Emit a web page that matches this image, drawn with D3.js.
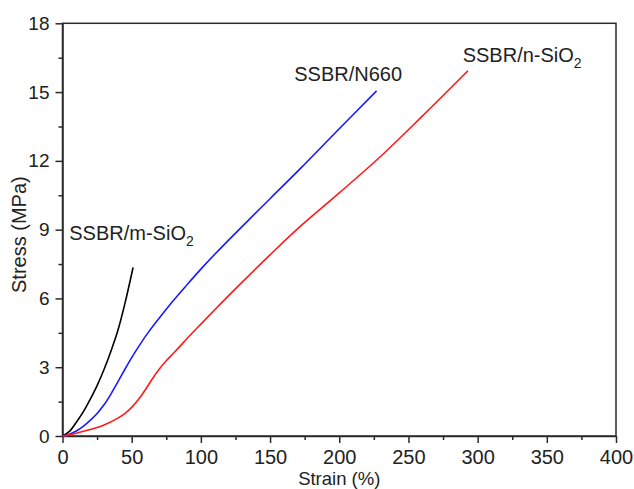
<!DOCTYPE html>
<html>
<head>
<meta charset="utf-8">
<script src="https://cdn.jsdelivr.net/npm/d3@7"></script>
<style>
  html, body { margin: 0; padding: 0; background: #fff; }
  svg { display: block; font-family: Arial, "Liberation Sans", sans-serif; }
</style>
</head>
<body>
<svg id="chart" width="634" height="489"></svg>
<script>
// Tensile stress–strain curves for the three SSBR compounds
const strainBlack = [0, 5, 10, 15, 20, 25, 30, 35, 40, 45, 51];
const stressBlack = [0, 0.2, 0.6, 1.05, 1.6, 2.2, 2.9, 3.7, 4.6, 5.75, 7.35];

const strainBlue = [0, 5, 10, 15, 20, 25, 30, 35, 40, 45, 50, 55, 62, 70, 80, 90, 100, 112, 135, 150, 172, 200, 227];
const stressBlue = [0, 0.08, 0.22, 0.42, 0.68, 0.98, 1.36, 1.83, 2.36, 2.9, 3.42, 3.9, 4.52, 5.15, 5.9, 6.6, 7.28, 8.05, 9.45, 10.35, 11.67, 13.4, 15.05];

const strainRed = [0, 5, 10, 20, 30, 40, 45, 50, 55, 60, 65, 70, 75, 80, 85, 90, 100, 114, 130, 150, 172, 200, 230, 260, 293];
const stressRed = [0, 0.05, 0.12, 0.28, 0.48, 0.78, 0.98, 1.25, 1.6, 2.03, 2.5, 2.92, 3.28, 3.6, 3.92, 4.25, 4.88, 5.75, 6.72, 7.9, 9.15, 10.6, 12.2, 13.95, 15.93];

const seriesNames = ["SSBR/m-SiO", "SSBR/N660", "SSBR/n-SiO"];
const seriesSubs = ["2", "", "2"];
const seriesColors = ["#000000", "#1a1aff", "#ff1a1a"];
const labelAt = [[4.9, 8.55], [167.5, 15.48], [289.2, 16.3]];

const xTicks = [0, 50, 100, 150, 200, 250, 300, 350, 400];
const yTicks = [0, 3, 6, 9, 12, 15, 18];
const xMinor = [25, 75, 125, 175, 225, 275, 325, 375];
const yMinor = [1.5, 4.5, 7.5, 10.5, 13.5, 16.5];

const W = 634, H = 489;
const margin = { left: 62.5, right: 18, top: 23.3, bottom: 53 };
const svg = d3.select("#chart");

const x = d3.scaleLinear().domain([0, 400]).range([margin.left, W - margin.right]);
const y = d3.scaleLinear().domain([0, 18]).range([H - margin.bottom, margin.top]);

const axisColor = "#2a2a2a";

// frame
svg.append("rect")
  .attr("x", x(0)).attr("y", y(18))
  .attr("width", x(400) - x(0)).attr("height", y(0) - y(18))
  .attr("fill", "none").attr("stroke", axisColor).attr("stroke-width", 1.5);

// x axis
const gx = svg.append("g").attr("transform", `translate(0,${y(0)})`)
  .call(d3.axisBottom(x).tickValues(xTicks).tickSize(7).tickPadding(7).tickSizeOuter(0));
gx.append("g").call(d3.axisBottom(x).tickValues(xMinor).tickSize(4).tickFormat("").tickSizeOuter(0))
  .select(".domain").remove();

// y axis
const gy = svg.append("g").attr("transform", `translate(${x(0)},0)`)
  .call(d3.axisLeft(y).tickValues(yTicks).tickSize(7).tickPadding(6).tickSizeOuter(0));
gy.append("g").call(d3.axisLeft(y).tickValues(yMinor).tickSize(4).tickFormat("").tickSizeOuter(0))
  .select(".domain").remove();

svg.selectAll(".domain").attr("stroke", axisColor).attr("stroke-width", 1.5);
svg.selectAll(".tick line").attr("stroke", axisColor).attr("stroke-width", 1.5);
gx.selectAll(".tick text").attr("font-size", 20).attr("fill", "#222").attr("font-family", "Arial, 'Liberation Sans', sans-serif");
gy.selectAll(".tick text").attr("font-size", 19).attr("fill", "#222").attr("font-family", "Arial, 'Liberation Sans', sans-serif");

// axis titles
svg.append("text")
  .attr("x", (x(0) + x(400)) / 2).attr("y", 485)
  .attr("text-anchor", "middle").attr("font-size", 18.5).attr("fill", "#222")
  .text("Strain (%)");
svg.append("text")
  .attr("transform", `translate(26,${(y(0) + y(18)) / 2 + 5}) rotate(-90)`)
  .attr("text-anchor", "middle").attr("font-size", 20).attr("fill", "#222")
  .text("Stress (MPa)");

// curves
const seriesData = [
  d3.zip(strainBlack, stressBlack),
  d3.zip(strainBlue, stressBlue),
  d3.zip(strainRed, stressRed)
];
const line = d3.line().x(d => x(d[0])).y(d => y(d[1])).curve(d3.curveCatmullRom.alpha(0.5));
seriesData.forEach((d, i) => {
  svg.append("path").datum(d)
    .attr("d", line)
    .attr("fill", "none")
    .attr("stroke", seriesColors[i])
    .attr("stroke-width", 1.6);
});

// curve labels
seriesNames.forEach((name, i) => {
  const t = svg.append("text")
    .attr("x", x(labelAt[i][0])).attr("y", y(labelAt[i][1]))
    .attr("font-size", 20).attr("fill", "#222")
    .text(name);
  if (seriesSubs[i]) {
    t.append("tspan").attr("dy", 6).attr("font-size", 14).text(seriesSubs[i]);
  }
});
</script>
</body>
</html>
